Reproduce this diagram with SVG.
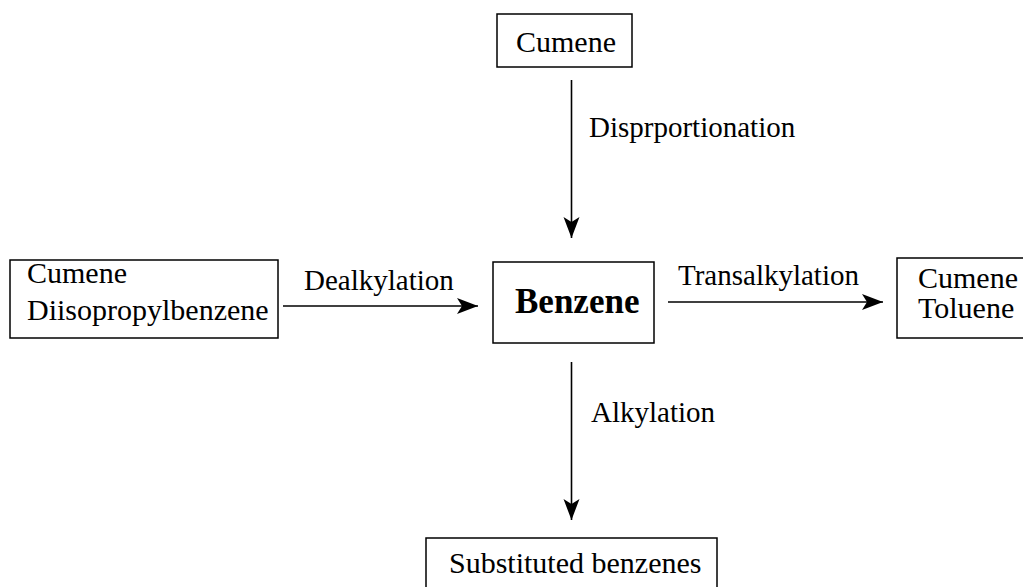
<svg xmlns="http://www.w3.org/2000/svg" width="1023" height="587" viewBox="0 0 1023 587">
  <defs>
    <style>
      .box { fill: #ffffff; stroke: #000000; stroke-width: 1.5; }
      .txt { font-family: "Liberation Serif", "Times New Roman", serif; font-size: 30px; fill: #000000; }
      .bold { font-weight: bold; font-size: 35px; }
      .lbl { font-family: "Liberation Serif", "Times New Roman", serif; font-size: 29px; fill: #000000; }
      .conn { fill: none; stroke: #000000; stroke-width: 1.6; }
    </style>
    <marker id="arrow" markerUnits="userSpaceOnUse" markerWidth="24" markerHeight="18" refX="21" refY="8" orient="auto">
      <path d="M0,0 L21,8 L0,16 L5,8 Z" fill="#000000"/>
    </marker>
  </defs>

  <!-- reaction paths -->
  <g id="connectors">
    <line class="conn" x1="571.5" y1="80" x2="571.5" y2="238" marker-end="url(#arrow)"/>
    <line class="conn" x1="283" y1="306" x2="478" y2="306" marker-end="url(#arrow)"/>
    <line class="conn" x1="668" y1="302" x2="883" y2="302" marker-end="url(#arrow)"/>
    <line class="conn" x1="571.5" y1="362" x2="571.5" y2="520" marker-end="url(#arrow)"/>
    <text class="lbl" x="589" y="137">Disprportionation</text>
    <text class="lbl" x="304" y="290">Dealkylation</text>
    <text class="lbl" x="678" y="285">Transalkylation</text>
    <text class="lbl" x="591" y="422">Alkylation</text>
  </g>

  <g id="cumene-top">
    <rect class="box" x="497" y="14" width="135" height="53"/>
    <text class="txt" x="516" y="52">Cumene</text>
  </g>

  <g id="feed-left">
    <rect class="box" x="10" y="260" width="268" height="78"/>
    <text class="txt" x="27" y="283">Cumene</text>
    <text class="txt" x="27" y="320">Diisopropylbenzene</text>
  </g>

  <g id="benzene">
    <rect class="box" x="493" y="262" width="161" height="81"/>
    <text class="txt bold" x="515" y="313">Benzene</text>
  </g>

  <g id="products-right">
    <rect class="box" x="897" y="258" width="140" height="80"/>
    <text class="txt" x="918" y="288">Cumene</text>
    <text class="txt" x="918" y="318">Toluene</text>
  </g>

  <g id="substituted">
    <rect class="box" x="426" y="538" width="291" height="60"/>
    <text class="txt" x="449" y="573">Substituted benzenes</text>
  </g>
</svg>
